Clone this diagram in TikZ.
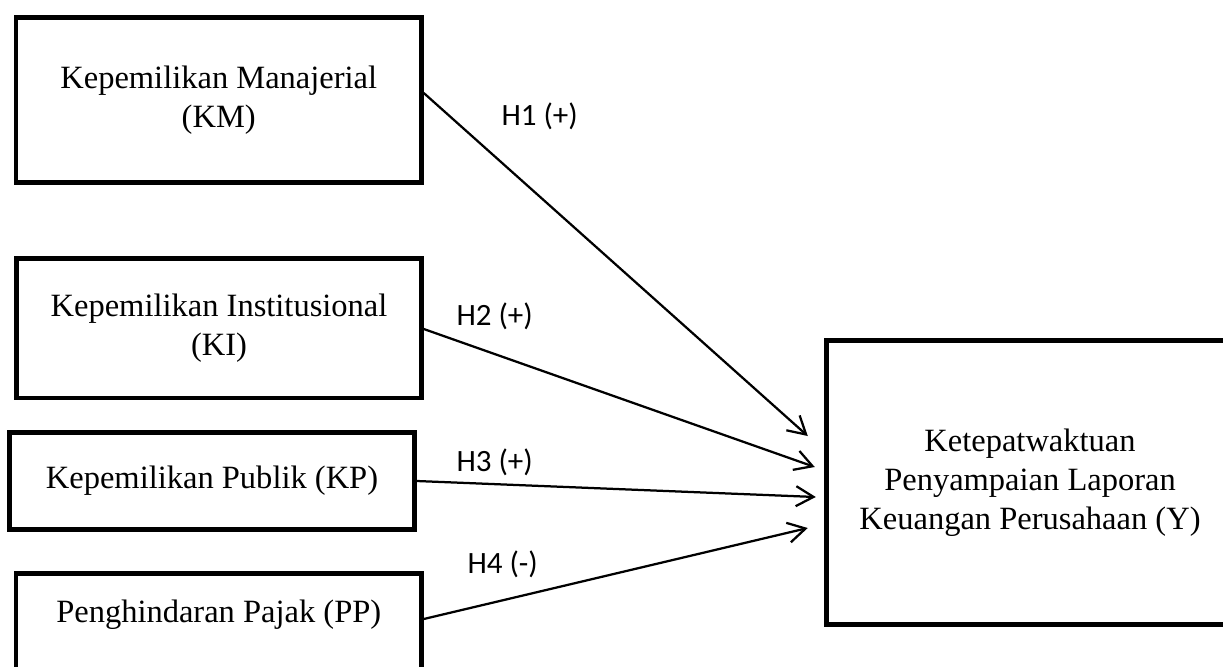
\documentclass[tikz,border=0pt]{standalone}
\usepackage{fontspec}
\setmainfont{Liberation Serif}
\newfontfamily\hypfont{Carlito}
\usetikzlibrary{arrows.meta,calc}

\begin{document}
\begin{tikzpicture}[x=0.4pt,y=-0.4pt,
    varbox/.style={draw,line width=1.8pt,inner sep=0pt,align=center,
      font=\fontsize{13}{15.5}\selectfont},
    hyplabel/.style={anchor=base west,inner sep=0pt,
      font=\hypfont\fontsize{12.4}{14}\selectfont},
    hyparrow/.style={line width=0.9pt,-{Straight Barb[length=7pt,width=8pt]}}]
  \useasboundingbox (0,0) rectangle (1223,666);
  \clip (0,0) rectangle (1223,666);

  % independent variables
  \node[varbox,minimum width=162.2pt,minimum height=66pt] (KM) at (218.75,100)
    {Kepemilikan Manajerial\\(KM)};
  \node[varbox,minimum width=162pt,minimum height=55.8pt] (KI) at (219,328)
    {Kepemilikan Institusional\\(KI)};
  \node[varbox,minimum width=162pt,minimum height=38.8pt] (KP) at (212,481)
    {Kepemilikan Publik (KP)};
  \node[varbox,anchor=north,minimum width=162.2pt,text height=19.6pt,text depth=40pt]
    (PP) at (218.75,571) {Penghindaran Pajak (PP)};

  % dependent variable
  \node[varbox,minimum width=162.8pt,minimum height=113.6pt] (Y) at (1030,482.5)
    {Ketepatwaktuan\\Penyampaian Laporan\\Keuangan Perusahaan (Y)};

  % hypotheses
  \draw[hyparrow] ($(KM.east)+(0,-7)$) -- ($(Y.west)+(-16.5,-46.5)$);
  \draw[hyparrow] ($(KI.east)+(0,1)$) -- ($(Y.west)+(-9.5,-15.5)$);
  \draw[hyparrow] (KP.east) -- ($(Y.west)+(-8.5,14.5)$);
  \draw[hyparrow] ($(PP.north east)+(0,48)$) -- ($(Y.west)+(-16.5,45.5)$);

  \node[hyplabel] (h1) at (501,125) {H1 (+)};
  \node[hyplabel] (h2) at (456,325) {H2 (+)};
  \node[hyplabel] (h3) at (456,471) {H3 (+)};
  \node[hyplabel] (h4) at (467,573) {H4 (-)};
\end{tikzpicture}
\end{document}
